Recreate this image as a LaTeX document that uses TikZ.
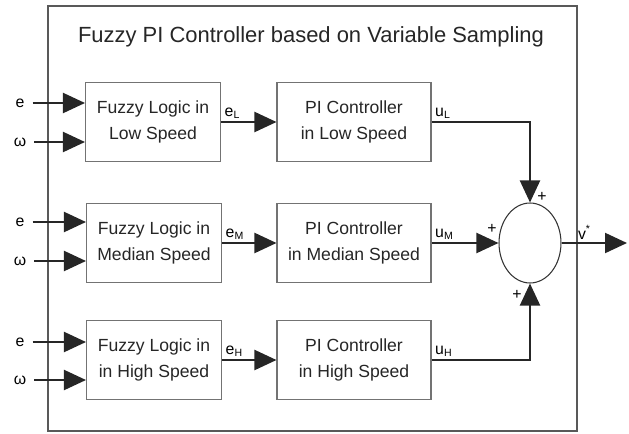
\documentclass[tikz,border=0pt]{standalone}
\usepackage{fontspec}
\setmainfont{Liberation Sans}
\usetikzlibrary{shapes.geometric,arrows.meta,positioning,calc}

\begin{document}
\begin{tikzpicture}[
  x=0.02cm, y=-0.02cm,
  fuzzy/.style={draw=black!55, line width=0.6pt, minimum width=2.7cm, minimum height=1.58cm,
                align=center, inner sep=0pt, text=black!85, font=\fontsize{10}{15}\selectfont},
  pictl/.style={fuzzy, minimum width=3.08cm},
  inp/.style={font=\fontsize{9}{10}\selectfont, inner sep=4.5pt},
  sig/.style={font=\fontsize{9}{10}\selectfont, inner sep=1.5pt},
  pm/.style={font=\fontsize{9}{10}\selectfont, inner sep=0pt},
  wire/.style={draw=black!85, line width=1.2pt},
  >={Triangle[length=4.4mm,width=4mm]}
]
\useasboundingbox (0,0) rectangle (629,433);
\draw[draw=black!65, line width=0.7pt] (48,6) rectangle (577,431);
\node[font=\fontsize{12.5}{14}\selectfont, text=black!85] (title) at (311,37)
  {Fuzzy PI Controller based on Variable Sampling};

\node[fuzzy] (flow)  at (153,122) {Fuzzy Logic in\\Low Speed};
\node[fuzzy] (fmed)  at (154,243) {Fuzzy Logic in\\Median Speed};
\node[fuzzy] (fhigh) at (154,360) {Fuzzy Logic in\\in High Speed};
\node[pictl] (plow)  at (354,122) {PI Controller\\in Low Speed};
\node[pictl] (pmed)  at (354,243) {PI Controller\\in Median Speed};
\node[pictl] (phigh) at (354,360) {PI Controller\\in High Speed};
\node[draw=black!80, ellipse, line width=0.6pt, inner sep=0pt,
      minimum width=1.24cm, minimum height=1.6cm] (sum) at (530,243) {};

% inputs
\node[inp] (elow)  at (20,103) {e};
\node[inp] (wlow)  at (20,142) {ω};
\node[inp] (emed)  at (20,222) {e};
\node[inp] (wmed)  at (20,261) {ω};
\node[inp] (ehigh) at (20,342) {e};
\node[inp] (whigh) at (20,380) {ω};
\draw[->, wire] (elow)  -- (elow -| flow.west);
\draw[->, wire] (wlow)  -- (wlow -| flow.west);
\draw[->, wire] (emed)  -- (emed -| fmed.west);
\draw[->, wire] (wmed)  -- (wmed -| fmed.west);
\draw[->, wire] (ehigh) -- (ehigh -| fhigh.west);
\draw[->, wire] (whigh) -- (whigh -| fhigh.west);

\draw[->, wire] (flow)  -- (plow)  node[sig, above right, pos=0] {e\textsubscript{L}};
\draw[->, wire] (fmed)  -- (pmed)  node[sig, above right, pos=0] {e\textsubscript{M}};
\draw[->, wire] (fhigh) -- (phigh) node[sig, above right, pos=0] {e\textsubscript{H}};

\draw[->, wire] (plow)  -| (sum) node[sig, above right, pos=0] {u\textsubscript{L}};
\draw[->, wire] (pmed)  -- (sum) node[sig, above right, pos=0] {u\textsubscript{M}};
\draw[->, wire] (phigh) -| (sum) node[sig, above right, pos=0] {u\textsubscript{H}};

\node[pm] (plusT) at (542,197) {+};
\node[pm] (plusL) at (492,229) {+};
\node[pm] (plusB) at (517,295) {+};

\coordinate (vout) at (627,243);
\draw[->, wire] (sum) -- (vout) node[sig, above, pos=0.35] {v\textsuperscript{*}};
\end{tikzpicture}
\end{document}
